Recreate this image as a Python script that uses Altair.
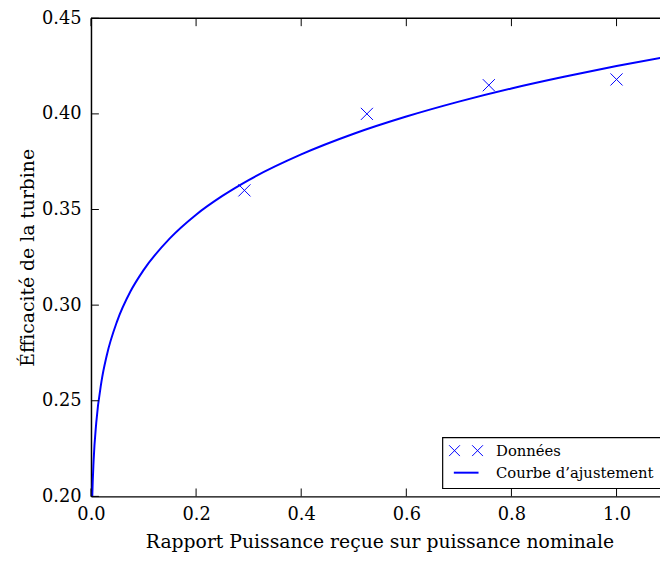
import altair as alt
import pandas as pd

# ---- data ----
donnees_x = [0.292, 0.525, 0.757, 1.0]
donnees_y = [0.360, 0.400, 0.415, 0.418]

courbe_x = [0.0015, 0.0025, 0.005, 0.01, 0.02, 0.03, 0.05, 0.075, 0.1, 0.15, 0.2,
            0.25, 0.3, 0.4, 0.5, 0.6, 0.7, 0.8, 0.9, 1.0, 1.1]
courbe_y = [0.1880, 0.2004, 0.2186, 0.2384, 0.2601, 0.2737, 0.2918, 0.3071, 0.3183,
            0.3349, 0.3473, 0.3571, 0.3654, 0.3788, 0.3896, 0.3986, 0.4064, 0.4133,
            0.4194, 0.4250, 0.4301]

x_ticks = [0.0, 0.2, 0.4, 0.6, 0.8, 1.0]
y_ticks = [0.20, 0.25, 0.30, 0.35, 0.40, 0.45]
legend_labels = ["Données", "Courbe d’ajustement"]
x_title = "Rapport Puissance reçue sur puissance nominale"
y_title = "Éfficacité de la turbine"

# ---- styling ----
FONT = "DejaVu Serif"
BLUE = "#0000ff"
W, H = 576, 484
TICK = 8
X_PATH = "M-1,-1L1,1M-1,1L1,-1"

df_pts = pd.DataFrame({"x": donnees_x, "y": donnees_y})
df_fit = pd.DataFrame({"x": courbe_x, "y": courbe_y})
df_xt = pd.DataFrame({"x": x_ticks})
df_yt = pd.DataFrame({"y": y_ticks})
one = pd.DataFrame({"a": [0]})

x_enc = alt.X(
    "x:Q",
    scale=alt.Scale(domain=[0, W / 532.0], nice=False, zero=False),
    axis=alt.Axis(
        values=x_ticks, format=".1f", ticks=False, tickSize=0, grid=False,
        domainColor="black", domainWidth=1.5,
        labelFont=FONT, labelFontSize=18, labelColor="black", labelPadding=9,
        labelFlush=False, labelOverlap=False,
        title=x_title, titleFont=FONT, titleFontSize=19, titleFontWeight="normal",
        titleColor="black", titleX=292, titleY=52, titleAlign="center",
        titleBaseline="alphabetic",
    ),
)
y_enc = alt.Y(
    "y:Q",
    scale=alt.Scale(domain=[0.2, 0.45], nice=False, zero=False),
    axis=alt.Axis(
        values=y_ticks, format=".2f", ticks=False, tickSize=0, grid=False,
        domainColor="black", domainWidth=1.5,
        labelFont=FONT, labelFontSize=18, labelColor="black", labelPadding=10,
        labelFlush=False, labelOverlap=False,
        title=y_title, titleFont=FONT, titleFontSize=19, titleFontWeight="normal",
        titleColor="black", titleX=-58, titleY=242, titleAngle=270,
        titleAlign="center", titleBaseline="alphabetic",
    ),
)

fit = alt.Chart(df_fit).mark_line(
    color=BLUE, strokeWidth=2, interpolate="monotone", clip=True
).encode(x=x_enc, y=y_enc)

pts = alt.Chart(df_pts).mark_point(
    shape=X_PATH, size=150, filled=False, color=BLUE, strokeWidth=1, opacity=1
).encode(x=x_enc, y=y_enc)

# inward ticks (matplotlib classic style)
xt_bottom = alt.Chart(df_xt).mark_rule(color="black", strokeWidth=1).encode(
    x=x_enc, y=alt.value(H), y2=alt.value(H - TICK))
xt_top = alt.Chart(df_xt).mark_rule(color="black", strokeWidth=1).encode(
    x=x_enc, y=alt.value(0), y2=alt.value(TICK))
yt_left = alt.Chart(df_yt).mark_rule(color="black", strokeWidth=1).encode(
    y=y_enc, x=alt.value(0), x2=alt.value(TICK))

top_frame = alt.Chart(one).mark_rule(color="black", strokeWidth=1.5).encode(
    x=alt.value(0), x2=alt.value(W), y=alt.value(0))

# legend box
LX, LY0, LY1 = 356, 424.5, 476
leg_box = alt.Chart(one).mark_rect(
    fill="white", stroke="black", strokeWidth=1.2
).encode(x=alt.value(LX), x2=alt.value(W + 20), y=alt.value(LY0), y2=alt.value(LY1))

row1, row2 = 437.7, 460
leg_x1 = alt.Chart(one).mark_point(
    shape=X_PATH, size=120, filled=False, color=BLUE, strokeWidth=1, opacity=1
).encode(x=alt.value(368), y=alt.value(row1))
leg_x2 = alt.Chart(one).mark_point(
    shape=X_PATH, size=120, filled=False, color=BLUE, strokeWidth=1, opacity=1
).encode(x=alt.value(391.3), y=alt.value(row1))
leg_line = alt.Chart(one).mark_rule(color=BLUE, strokeWidth=2).encode(
    x=alt.value(367.3), x2=alt.value(392.3), y=alt.value(row2))
leg_t1 = alt.Chart(one).mark_text(
    font=FONT, fontSize=15, align="left", baseline="middle", color="black"
).encode(x=alt.value(410), y=alt.value(row1), text=alt.value(legend_labels[0]))
leg_t2 = alt.Chart(one).mark_text(
    font=FONT, fontSize=15, align="left", baseline="middle", color="black"
).encode(x=alt.value(410), y=alt.value(row2), text=alt.value(legend_labels[1]))

chart = alt.layer(
    fit, pts, xt_bottom, xt_top, yt_left, top_frame,
    leg_box, leg_x1, leg_x2, leg_line, leg_t1, leg_t2,
).properties(
    width=W, height=H,
    padding={"left": 84, "top": 7, "right": 0, "bottom": 60},
    autosize=alt.AutoSizeParams(type="none"),
    background="white",
).configure_view(stroke=None)

chart.save("out.html", embed_options={"renderer": "svg", "actions": False})
